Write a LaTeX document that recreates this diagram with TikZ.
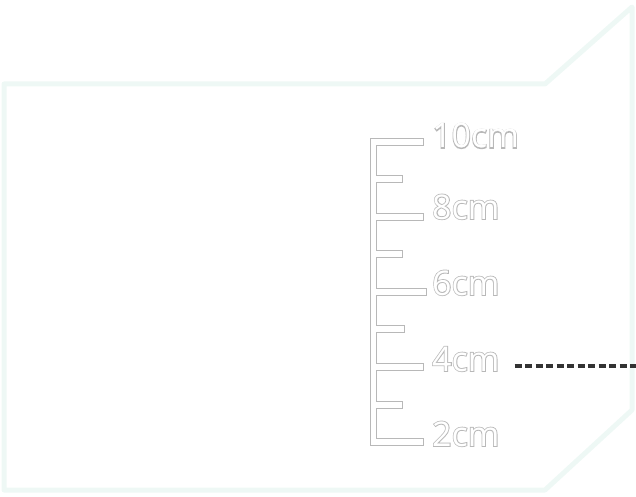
\documentclass[tikz,border=0pt]{standalone}
\usepackage{fontspec}
\setmainfont{Open Sans}
\definecolor{framemint}{HTML}{EEF8F5}
\definecolor{rulergray}{HTML}{B8B8B8}
\definecolor{dashdark}{HTML}{333333}
\tikzset{
  marklabel/.style={anchor=base west, inner sep=0pt, font=\fontsize{34}{34}\selectfont, text=white},
}
% hollow text: grey stroke under a white fill
\newcommand{\rulerlabel}[1]{\rlap{\special{pdf:literal direct 1 Tr 1.6 w 0.72 G}#1\special{pdf:literal direct 0 Tr}}#1}
\begin{document}
\begin{tikzpicture}[x=1pt,y=-1pt]
    \useasboundingbox (0,0) rectangle (636,497);

    % Outer frame
    \draw[framemint,line width=5pt,line join=round]
        (4,84) -- (545,84) -- (632,7) -- (632,410) -- (545,490) -- (4,490) -- cycle;

    % Ruler comb
    \draw[rulergray,line width=0.8pt]
        (370,138) -- (423,138) -- (423,145) -- (376,145)
        -- (376,175) -- (402,175) -- (402,182) -- (376,182)
        -- (376,213) -- (423,213) -- (423,220) -- (376,220)
        -- (376,250) -- (402,250) -- (402,257) -- (376,257)
        -- (376,288) -- (426,288) -- (426,295) -- (376,295)
        -- (376,325) -- (404,325) -- (404,332) -- (376,332)
        -- (376,363) -- (423,363) -- (423,370) -- (376,370)
        -- (376,401) -- (402,401) -- (402,408) -- (376,408)
        -- (376,438) -- (423,438) -- (423,445) -- (370,445) -- cycle;

    % Ruler labels
    \foreach \val/\ypos in {10/148, 8/219, 6/295, 4/371, 2/446} {
        \node[marklabel] (lbl\val) at (432,\ypos) {\rulerlabel{\val cm}};
    }

    % Level marker
    \coordinate (levelend) at (636,366);
    \draw[dashdark,line width=4.5pt,dash pattern=on 7pt off 3.5pt]
        ([xshift=15pt]lbl4.east |- levelend) -- (levelend);
\end{tikzpicture}
\end{document}
